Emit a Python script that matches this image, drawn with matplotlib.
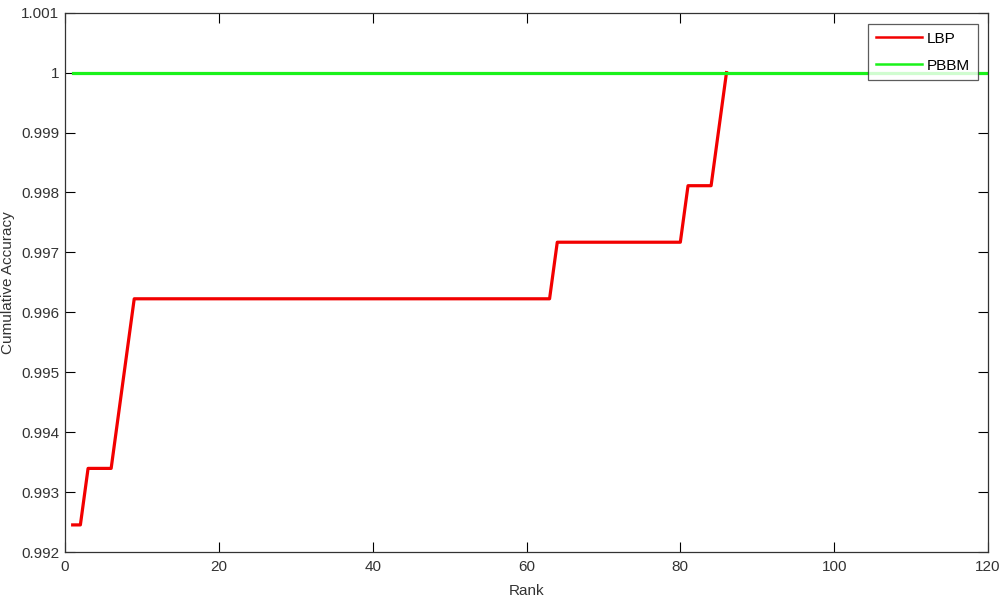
import numpy as np
import matplotlib
matplotlib.use('Agg')
import matplotlib.pyplot as plt

plt.rcParams['font.family'] = ['Liberation Sans', 'DejaVu Sans']

# Rank values and cumulative accuracy
lbp_rank = [1, 2, 3, 6, 7, 8, 9, 63, 64, 80, 81, 84, 85, 86]
lbp_acc = [0.992453, 0.992453, 0.993396, 0.993396, 0.994340, 0.995283, 0.996226,
           0.996226, 0.997170, 0.997170, 0.998113, 0.998113, 0.999057, 1.0]
pbbm_rank = [1, 120]
pbbm_acc = [1.0, 1.0]

yticks = [0.992, 0.993, 0.994, 0.995, 0.996, 0.997, 0.998, 0.999, 1.0, 1.001]
ytick_labels = ['0.992', '0.993', '0.994', '0.995', '0.996', '0.997', '0.998', '0.999', '1', '1.001']
xticks = [0, 20, 40, 60, 80, 100, 120]

fig = plt.figure(figsize=(10, 6.04), dpi=100)
ax = fig.add_axes([0.065, 0.086, 0.923, 0.893])

ax.plot(lbp_rank, lbp_acc, '-', color=(0.95, 0, 0), lw=2.3, label='LBP')
ax.plot(pbbm_rank, pbbm_acc, '-', color=(0.1, 0.95, 0.1), lw=2.3, label='PBBM')

ax.set_xlim(0, 120)
ax.set_ylim(0.992, 1.001)
ax.set_xticks(xticks)
ax.set_xticklabels([str(t) for t in xticks])
ax.set_yticks(yticks)
ax.set_yticklabels(ytick_labels)
ax.tick_params(direction='in', length=7, width=0.8, top=True, right=True,
               labelsize=11, labelcolor='#333333')
ax.tick_params(axis='x', pad=6)
ax.tick_params(axis='y', pad=4)
for s in ax.spines.values():
    s.set_linewidth(0.9)
    s.set_color('#333333')

ax.set_xlabel('Rank', fontsize=11, color='#333333', labelpad=7)
ax.set_ylabel('Cumulative Accuracy', fontsize=11, color='#333333')
ax.yaxis.set_label_coords(-0.054, 0.5)

leg = ax.legend(loc='upper right', bbox_to_anchor=(0.989, 0.979), borderaxespad=0,
                fontsize=11, frameon=True, fancybox=False, edgecolor='#333333',
                handlelength=3.0, borderpad=0.5, labelspacing=0.85, handletextpad=0.35)
leg.get_frame().set_linewidth(0.9)
for ln in leg.get_lines():
    ln.set_linewidth(1.8)

fig.savefig('out.png', dpi=100)
